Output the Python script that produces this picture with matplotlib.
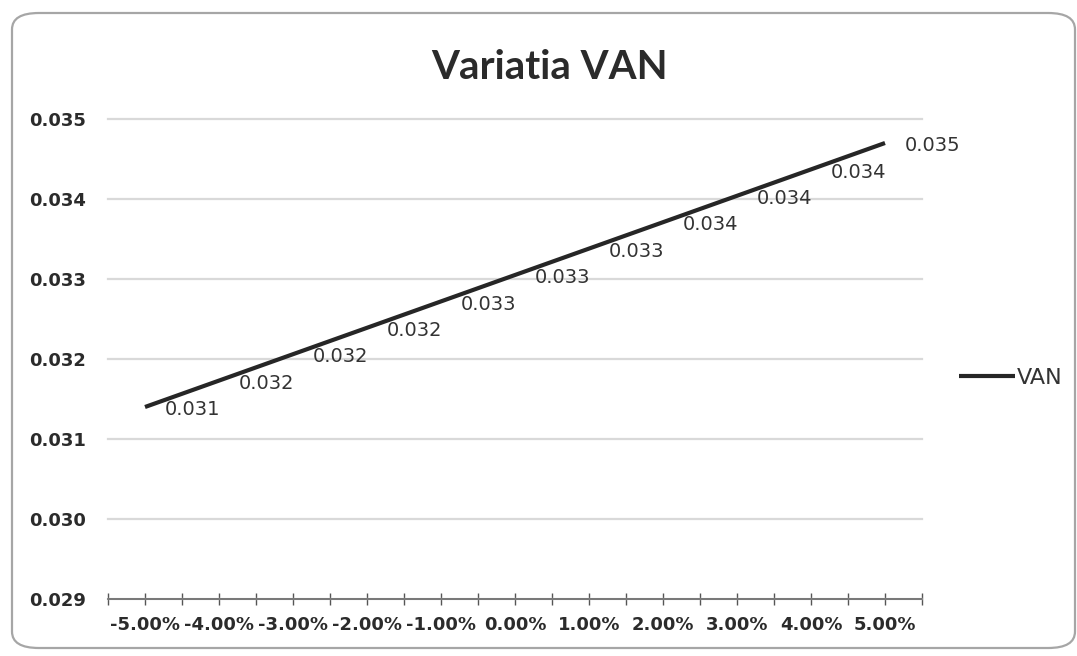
import numpy as np
import matplotlib
matplotlib.use("Agg")
import matplotlib.pyplot as plt
from matplotlib.patches import FancyBboxPatch
from matplotlib.ticker import FormatStrFormatter

# data
rates = ["-5.00%", "-4.00%", "-3.00%", "-2.00%", "-1.00%", "0.00%",
         "1.00%", "2.00%", "3.00%", "4.00%", "5.00%"]
van = [0.03140, 0.03173, 0.03206, 0.03239, 0.03272, 0.03305,
       0.03338, 0.03371, 0.03404, 0.03437, 0.03470]
yticks = [0.029, 0.030, 0.031, 0.032, 0.033, 0.034, 0.035]

plt.rcParams["font.family"] = ["DejaVu Sans"]

fig = plt.figure(figsize=(10.77, 6.56), dpi=100)
fig.patch.set_facecolor("white")

# rounded chart border
border = FancyBboxPatch((12 / 1077, 8 / 656), 1063 / 1077, 635 / 656,
                        boxstyle="round,pad=0,rounding_size=0.025",
                        transform=fig.transFigure, facecolor="none",
                        edgecolor="#a6a6a6", linewidth=1.6)
fig.patches.append(border)

ax = fig.add_axes([108 / 1077, 57 / 656, 814 / 1077, 480 / 656])
x = np.arange(len(rates))

ax.plot(x, van, color="#262626", linewidth=3, label="VAN", solid_capstyle="butt")

for xi, v in zip(x, van):
    ax.annotate(f"{v:.3f}", (xi, v), xytext=(14, -2), textcoords="offset points",
                ha="left", va="center", fontsize=14, color="#333333")

ax.set_xlim(-0.5, len(rates) - 0.5)
ax.set_ylim(0.029, 0.035)
ax.set_yticks(yticks)
ax.yaxis.set_major_formatter(FormatStrFormatter("%.3f"))
ax.set_xticks(x)
ax.set_xticklabels(rates)
ax.set_xticks(np.arange(-0.5, len(rates), 1.0), minor=True)

ax.grid(axis="y", color="#d9d9d9", linewidth=1.6)
for gl in ax.get_ygridlines():
    gl.set_clip_on(False)
ax.set_axisbelow(True)
for s in ["top", "right", "left"]:
    ax.spines[s].set_visible(False)
ax.spines["bottom"].set_color("#666666")
ax.spines["bottom"].set_linewidth(1.2)

ax.tick_params(axis="y", length=0, pad=16, labelsize=13, labelcolor="#2b2b2b")
ax.tick_params(axis="x", which="both", direction="inout", length=8,
               color="#555555", width=1, pad=8, labelsize=13, labelcolor="#2b2b2b")
for lab in ax.get_xticklabels() + ax.get_yticklabels():
    lab.set_fontweight("bold")

fig.text(550 / 1077, (656 - 79) / 656, "Variatia VAN", ha="center", va="baseline",
         fontsize=29, fontweight="bold", color="#2b2b2b",
         family=["Lato", "DejaVu Sans"])

ax.legend(loc="center left", bbox_to_anchor=(959 / 1077, (656 - 378) / 656),
          bbox_transform=fig.transFigure, frameon=False, fontsize=16,
          handlelength=2.5, handletextpad=0.1, borderpad=0, borderaxespad=0,
          labelcolor="#333333")

fig.savefig("out.png", dpi=100, facecolor="white")
